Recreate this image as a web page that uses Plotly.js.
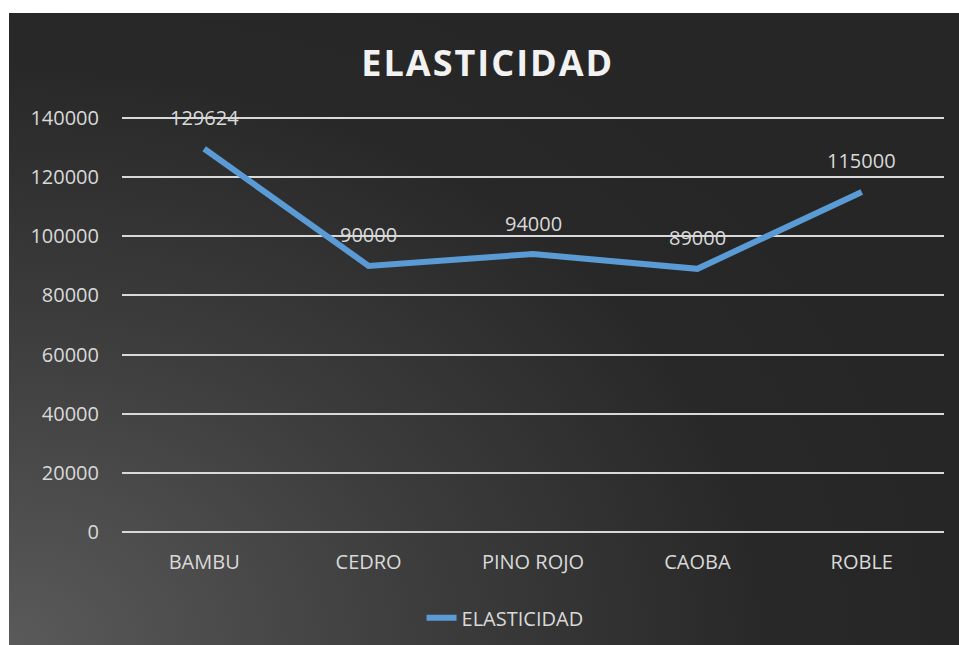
<!DOCTYPE html>
<html><head><meta charset="utf-8">
<script src="https://cdn.plot.ly/plotly-3.0.1.min.js"></script>
<style>
html,body{margin:0;padding:0;background:#ffffff;width:959px;height:645px;overflow:hidden;}
#chart{position:absolute;left:9px;top:13px;width:950px;height:632px;
background: radial-gradient(ellipse 100% 115% at 0% 100%, #5a5a5a 0%, #3c3c3c 45%, #282828 80%, #262626 100%);}
.gtitle{letter-spacing:2px;}
</style></head>
<body><div id="chart"></div>
<script>
const categories = ["BAMBU","CEDRO","PINO ROJO","CAOBA","ROBLE"];
const elasticidad = [129624, 90000, 94000, 89000, 115000];
const labels = ["129624","90000","94000","89000","115000"];
const yTicks = [0,20000,40000,60000,80000,100000,120000,140000];

const font = "'Open Sans', 'Noto Sans', sans-serif";
const trace = {
  x: categories, y: elasticidad, type: 'scatter', mode: 'lines',
  name: 'ELASTICIDAD',
  line: {color: '#5b9bd5', width: 6}
};
const annotations = categories.map((c,i)=>({
  x: c, y: elasticidad[i], text: labels[i], showarrow: false, yshift: 31,
  font: {family: font, size: 20, color: '#d9d9d9'}
}));
const layout = {
  width: 950, height: 632,
  paper_bgcolor: 'rgba(0,0,0,0)', plot_bgcolor: 'rgba(0,0,0,0)',
  margin: {l: 113, r: 15, t: 104, b: 112},
  title: {text: '<b>ELASTICIDAD</b>', x: 0.504, xanchor: 'center', y: 0.92, yanchor: 'middle',
          font: {family: font, size: 36, color: '#f2f2f2'}},
  xaxis: {type: 'category', range: [-0.5, 4.5], showgrid: false, zeroline: false, showline: false,
          ticks: '', tickfont: {family: font, size: 20, color: '#d9d9d9'}, ticklabelstandoff: 15, fixedrange: true},
  yaxis: {range: [-350, 140350], tickvals: yTicks, ticktext: yTicks.map(String),
          showgrid: true, gridcolor: '#d9d9d9', gridwidth: 2, zeroline: false, showline: false,
          ticks: '', ticklen: 0, tickfont: {family: font, size: 20, color: '#d9d9d9'}, ticklabelstandoff: 22},
  showlegend: true,
  legend: {orientation: 'h', x: 0.466, xanchor: 'center', yref: 'container', y: 0.043, yanchor: 'middle',
           font: {family: font, size: 20, color: '#d9d9d9'}, bgcolor: 'rgba(0,0,0,0)'},
  annotations: annotations
};
Plotly.newPlot('chart', [trace], layout, {displayModeBar: false, staticPlot: true});
</script></body></html>
